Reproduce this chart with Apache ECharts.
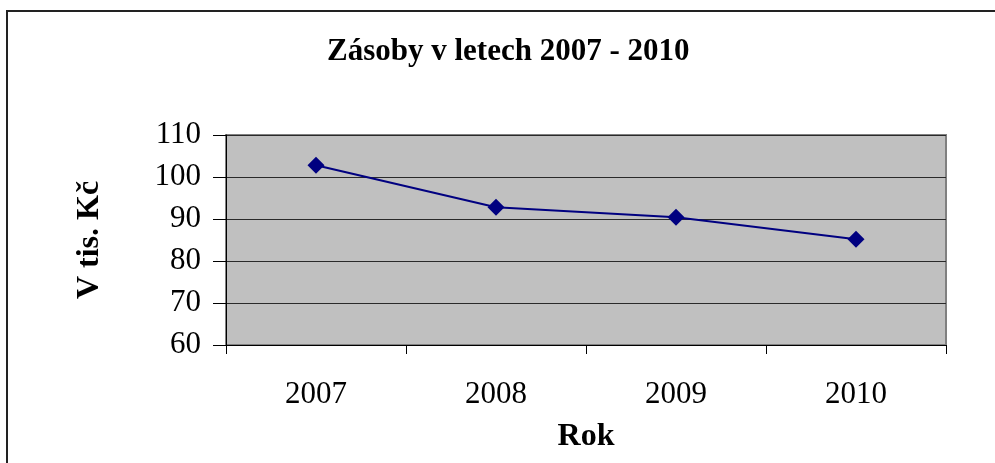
<!DOCTYPE html>
<html>
<head>
<meta charset="utf-8">
<script src="https://cdn.jsdelivr.net/npm/echarts@6/dist/echarts.min.js"></script>
<style>
html, body { margin: 0; padding: 0; background: #fff; }
#main { width: 995px; height: 463px; }
</style>
</head>
<body>
<div id="main"></div>
<script>
// data
var years = ['2007', '2008', '2009', '2010'];
var zasoby = [102.8, 92.8, 90.4, 85.2];
var yTicks = [60, 70, 80, 90, 100, 110];

var myChart = echarts.init(document.getElementById('main'));

var option = {
    backgroundColor: '#fff',
    animation: false,
    title: {
        text: 'Zásoby v letech 2007 - 2010',
        left: 327,
        top: 36,
        padding: 0,
        textStyle: {
            color: '#000',
            fontFamily: 'Liberation Serif',
            fontWeight: 'bold',
            fontSize: 31
        }
    },
    graphic: [{
        type: 'rect',
        shape: { x: 7, y: 11, width: 1000, height: 500 },
        style: { fill: 'none', stroke: '#222', lineWidth: 2 },
        z: 100
    }],
    grid: {
        left: 226,
        right: 49,
        top: 135,
        bottom: 118,
        show: true,
        backgroundColor: '#c0c0c0',
        borderColor: '#808080',
        borderWidth: 2
    },
    xAxis: {
        type: 'category',
        data: years,
        boundaryGap: true,
        name: 'Rok',
        nameLocation: 'middle',
        nameGap: 76,
        nameTextStyle: {
            color: '#000',
            fontFamily: 'Liberation Serif',
            fontWeight: 'bold',
            fontSize: 32
        },
        axisLine: { show: true, lineStyle: { color: '#000', width: 1 } },
        axisTick: { show: true, length: 9, lineStyle: { color: '#000' } },
        axisLabel: {
            color: '#000',
            fontFamily: 'Liberation Serif',
            fontSize: 31,
            margin: 34
        },
        splitLine: { show: false }
    },
    yAxis: {
        type: 'value',
        min: yTicks[0],
        max: yTicks[yTicks.length - 1],
        interval: 10,
        name: 'V tis. Kč',
        nameLocation: 'middle',
        nameRotate: 90,
        nameGap: 120,
        nameTextStyle: {
            color: '#000',
            fontFamily: 'Liberation Serif',
            fontWeight: 'bold',
            fontSize: 32
        },
        axisLine: { show: true, lineStyle: { color: '#000', width: 1 } },
        axisTick: { show: true, length: 13, lineStyle: { color: '#000' } },
        axisLabel: {
            color: '#000',
            fontFamily: 'Liberation Serif',
            fontSize: 31,
            margin: 25
        },
        splitLine: { show: true, lineStyle: { color: '#2a2a2a', width: 1 } }
    },
    series: [{
        name: 'Zásoby',
        type: 'line',
        data: zasoby,
        symbol: 'diamond',
        symbolSize: 17,
        lineStyle: { color: '#000080', width: 2 },
        itemStyle: { color: '#000080' }
    }]
};
myChart.setOption(option);
</script>
</body>
</html>
